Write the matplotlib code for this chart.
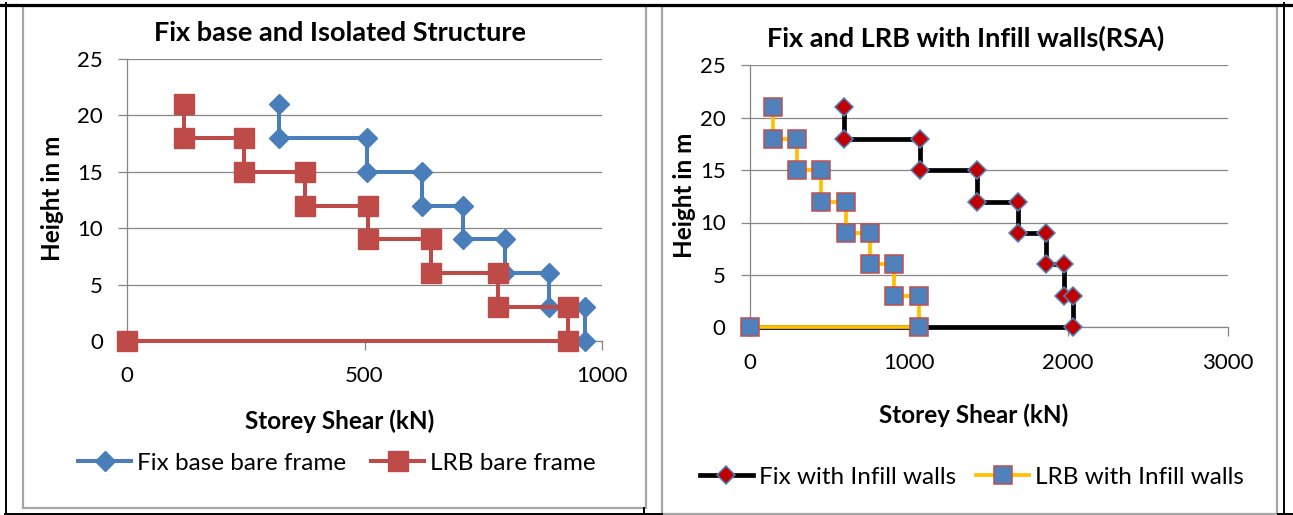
import matplotlib
matplotlib.use('Agg')
import matplotlib.pyplot as plt
from matplotlib.lines import Line2D
from matplotlib.patches import Rectangle

plt.rcParams['font.family'] = ['Lato', 'DejaVu Sans']

# ---------------- data ----------------
heights = [21, 18, 18, 15, 15, 12, 12, 9, 9, 6, 6, 3, 3, 0, 0]

fix_bare_shear = [319, 319, 505, 505, 621, 621, 707, 707, 795, 795, 888, 888, 964, 964, 0]
lrb_bare_shear = [121, 121, 246, 246, 375, 375, 507, 507, 641, 641, 782, 782, 929, 929, 0]

fix_infill_shear = [596, 596, 1071, 1071, 1429, 1429, 1685, 1685, 1860, 1860, 1972, 1972, 2032, 2032, 0]
lrb_infill_shear = [147, 147, 298, 298, 449, 449, 605, 605, 756, 756, 907, 907, 1061, 1061, 0]

left_title = "Fix base and Isolated Structure"
right_title = "Fix and LRB with Infill walls(RSA)"
x_label = "Storey Shear (kN)"
y_label = "Height in m"
left_xticks = [0, 500, 1000]
right_xticks = [0, 1000, 2000, 3000]
yticks = [0, 5, 10, 15, 20, 25]
left_names = ["Fix base bare frame", "LRB bare frame"]
right_names = ["Fix with Infill walls", "LRB with Infill walls"]

# ---------------- layout helpers ----------------
W, H = 1293, 515
def fx(x):
    return x / W
def fy(y):
    return 1 - y / H

fig = plt.figure(figsize=(W / 100, H / 100), dpi=100)
fig.patch.set_facecolor('white')

GRID = '#868686'
BOX = '#A6A6A6'

# chart boxes
fig.add_artist(Rectangle((fx(23), fy(508)), (646 - 23) / W, (508 - 6) / H,
                         transform=fig.transFigure, fill=False, edgecolor=BOX, lw=1.6, zorder=0))
fig.add_artist(Rectangle((fx(662), fy(513.5)), (1277 - 662) / W, (513.5 - 6) / H,
                         transform=fig.transFigure, fill=False, edgecolor=BOX, lw=1.6, zorder=0))
# table borders
fig.add_artist(Line2D([0, 1], [fy(4.6)] * 2, color='black', lw=2.3, transform=fig.transFigure))
fig.add_artist(Line2D([fx(5.8)] * 2, [fy(3), fy(515)], color='black', lw=1.4, transform=fig.transFigure))
fig.add_artist(Line2D([fx(1284)] * 2, [fy(3), fy(515)], color='black', lw=1.4, transform=fig.transFigure))
fig.add_artist(Line2D([fx(5), fx(662)], [fy(514)] * 2, color='black', lw=1.4, transform=fig.transFigure))
fig.add_artist(Line2D([fx(1278), 1], [fy(514)] * 2, color='black', lw=1.4, transform=fig.transFigure))
fig.add_artist(Line2D([fx(644)] * 2, [fy(508), fy(514)], color='black', lw=1.4, transform=fig.transFigure))


def style_axes(ax, xmax, xticks):
    ax.set_xlim(0, xmax)
    ax.set_ylim(0, 25)
    ax.set_xticks(xticks)
    ax.set_yticks(yticks)
    ax.set_facecolor('none')
    for s in ['top', 'right']:
        ax.spines[s].set_visible(False)
    for s in ['left', 'bottom']:
        ax.spines[s].set_color(GRID)
        ax.spines[s].set_linewidth(0.9)
    ax.yaxis.grid(True, color=GRID, lw=0.9)
    ax.set_axisbelow(True)
    ax.tick_params(axis='both', direction='out', length=6.3, width=0.9, color=GRID,
                   labelsize=16, labelcolor='black')
    ax.tick_params(axis='y', pad=11)
    ax.tick_params(axis='x', pad=12)


# ---------------- left chart ----------------
axL = fig.add_axes([fx(127), fy(341), (602 - 127) / W, (341 - 59) / H])
style_axes(axL, 1000, left_xticks)
l1, = axL.plot(fix_bare_shear, heights, color='#4A7EBB', lw=2.9, marker='D', ms=10,
               mfc='#4A7EBB', mec='#4A7EBB', mew=1, clip_on=False, zorder=3)
l2, = axL.plot(lrb_bare_shear, heights, color='#BE4B48', lw=2.9, marker='s', ms=14,
               mfc='#BE4B48', mec='#BE4B48', mew=1, clip_on=False, zorder=4)

# ---------------- right chart ----------------
axR = fig.add_axes([fx(749.5), fy(327.3), (1227.5 - 749.5) / W, (327.3 - 65.3) / H])
style_axes(axR, 3000, right_xticks)
r1, = axR.plot(fix_infill_shear, heights, color='black', lw=3.4, marker='D', ms=9.5,
               mfc='#C00000', mec='#4F81BD', mew=1.1, clip_on=False, zorder=3)
r2, = axR.plot(lrb_infill_shear, heights, color='#FFC000', lw=2.7, marker='s', ms=13.5,
               mfc='#4F81BD', mec='#C0504D', mew=1.1, clip_on=False, zorder=4)

# ---------------- texts ----------------
fig.text(fx(340.5), fy(33), left_title, ha='center', va='center', fontsize=19.5, fontweight='bold')
fig.text(fx(966), fy(38), right_title, ha='center', va='center', fontsize=19.5, fontweight='bold')
fig.text(fx(52), fy(198), y_label, ha='center', va='center', rotation=90, fontsize=17.5, fontweight='bold')
fig.text(fx(685), fy(195), y_label, ha='center', va='center', rotation=90, fontsize=17.5, fontweight='bold')
fig.text(fx(340), fy(421), x_label, ha='center', va='center', fontsize=17.5, fontweight='bold')
fig.text(fx(974), fy(415), x_label, ha='center', va='center', fontsize=17.5, fontweight='bold')

fig.legend([l1, l2], left_names, loc='center', bbox_to_anchor=(fx(337), fy(463)), ncol=2,
           frameon=False, fontsize=17.5, handlelength=2.2, handletextpad=0.25, columnspacing=1.0)
fig.legend([r1, r2], right_names, loc='center', bbox_to_anchor=(fx(972), fy(477)), ncol=2,
           frameon=False, fontsize=17.5, handlelength=2.2, handletextpad=0.25, columnspacing=0.8)

fig.savefig('out.png', dpi=100, facecolor='white')
